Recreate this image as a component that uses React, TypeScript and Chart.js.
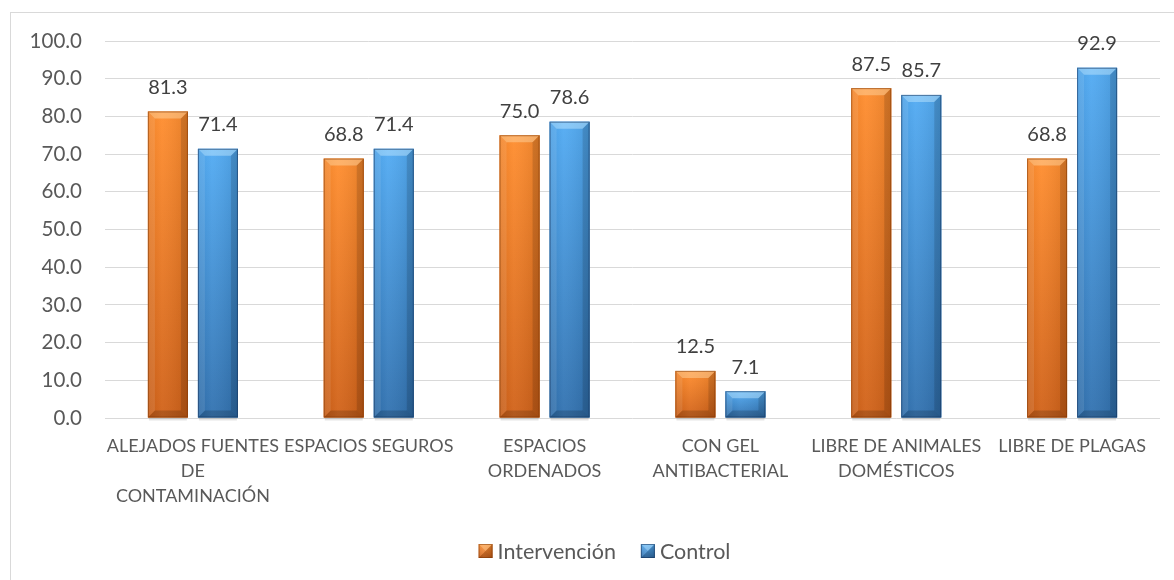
import React, { useEffect, useRef } from 'react';
import { Chart, registerables } from 'chart.js';

Chart.register(...registerables);

const categories: string[][] = [
  ['ALEJADOS FUENTES', 'DE', 'CONTAMINACIÓN'],
  ['ESPACIOS SEGUROS'],
  ['ESPACIOS', 'ORDENADOS'],
  ['CON GEL', 'ANTIBACTERIAL'],
  ['LIBRE DE ANIMALES', 'DOMÉSTICOS'],
  ['LIBRE DE PLAGAS'],
];
const seriesNames = ['Intervención', 'Control'];
const intervencion = [81.3, 68.8, 75.0, 12.5, 87.5, 68.8];
const control = [71.4, 71.4, 78.6, 7.1, 85.7, 92.9];
const yTicksMin = 0;
const yTicksMax = 100;
const yTickStep = 10;

const FONT = 'Lato, "Open Sans", "DejaVu Sans", sans-serif';

const palettes = [
  { base: '#F57B1E', light: '#FF8C2C', dark: '#D06016', cap: 'rgba(255,220,170,0.45)', edge: 'rgba(120,50,0,0.5)' },
  { base: '#3F95DE', light: '#50AAF3', dark: '#2F70AF', cap: 'rgba(200,235,255,0.45)', edge: 'rgba(20,50,90,0.55)' },
];

function drawBevelRect(ctx: CanvasRenderingContext2D, L: number, T: number, R: number, B: number, p: any) {
  const w = R - L;
  const h = B - T;
  if (h <= 0) return;
  const bv = Math.min(7, w / 2, h / 2);
  const g = ctx.createLinearGradient(0, T, 0, B);
  g.addColorStop(0, p.light);
  g.addColorStop(1, p.dark);
  ctx.fillStyle = g;
  ctx.fillRect(L, T, w, h);
  const hg = ctx.createLinearGradient(L, 0, R, 0);
  hg.addColorStop(0, 'rgba(0,0,0,0.05)');
  hg.addColorStop(0.35, 'rgba(255,255,255,0.06)');
  hg.addColorStop(1, 'rgba(0,0,0,0.10)');
  ctx.fillStyle = hg;
  ctx.fillRect(L, T, w, h);
  // top bevel
  ctx.beginPath();
  ctx.moveTo(L, T); ctx.lineTo(R, T); ctx.lineTo(R - bv, T + bv); ctx.lineTo(L + bv, T + bv); ctx.closePath();
  ctx.fillStyle = p.cap;
  ctx.fill();
  // left bevel
  ctx.beginPath();
  ctx.moveTo(L, T); ctx.lineTo(L + bv, T + bv); ctx.lineTo(L + bv, B - bv); ctx.lineTo(L, B); ctx.closePath();
  ctx.fillStyle = 'rgba(255,255,255,0.10)';
  ctx.fill();
  // right bevel
  ctx.beginPath();
  ctx.moveTo(R, T); ctx.lineTo(R - bv, T + bv); ctx.lineTo(R - bv, B - bv); ctx.lineTo(R, B); ctx.closePath();
  ctx.fillStyle = 'rgba(0,0,0,0.13)';
  ctx.fill();
  // bottom bevel
  ctx.beginPath();
  ctx.moveTo(L, B); ctx.lineTo(L + bv, B - bv); ctx.lineTo(R - bv, B - bv); ctx.lineTo(R, B); ctx.closePath();
  ctx.fillStyle = 'rgba(0,0,0,0.16)';
  ctx.fill();
  ctx.strokeStyle = p.edge;
  ctx.lineWidth = 1;
  ctx.strokeRect(L + 0.5, T + 0.5, w - 1, h - 1);
}

const bevelPlugin = {
  id: 'bevelBars',
  afterDatasetsDraw(chart: any) {
    const ctx: CanvasRenderingContext2D = chart.ctx;
    chart.data.datasets.forEach((ds: any, di: number) => {
      const meta = chart.getDatasetMeta(di);
      const p = palettes[di];
      meta.data.forEach((el: any, i: number) => {
        const { x, y, base, width } = el.getProps(['x', 'y', 'base', 'width'], true);
        const L = x - width / 2;
        const R = x + width / 2;
        ctx.save();
        ctx.fillStyle = 'rgba(0,0,0,0.10)';
        ctx.fillRect(L + 1, base, width - 2, 3);
        drawBevelRect(ctx, L, y, R, base, p);
        ctx.restore();
        ctx.save();
        ctx.fillStyle = '#404040';
        ctx.font = `20px ${FONT}`;
        ctx.textAlign = 'center';
        ctx.textBaseline = 'middle';
        ctx.fillText(Number(ds.data[i]).toFixed(1), x, y - 24);
        ctx.restore();
      });
    });
  },
};

const frameLegendPlugin = {
  id: 'frameLegend',
  beforeDraw(chart: any) {
    const ctx: CanvasRenderingContext2D = chart.ctx;
    ctx.save();
    ctx.fillStyle = '#ffffff';
    ctx.fillRect(0, 0, chart.width, chart.height);
    ctx.strokeStyle = '#D9D9D9';
    ctx.lineWidth = 1;
    ctx.strokeRect(10.5, 12.5, 1300, 700);
    ctx.restore();
  },
  afterDraw(chart: any) {
    const ctx: CanvasRenderingContext2D = chart.ctx;
    ctx.save();
    ctx.font = `21.5px ${FONT}`;
    ctx.textBaseline = 'middle';
    const box = 14;
    const gapBoxText = 5;
    const gapItems = 25;
    const labels = chart.data.datasets.map((d: any) => d.label);
    const widths = labels.map((l: string) => ctx.measureText(l).width);
    let total = 0;
    widths.forEach((w: number, i: number) => {
      total += box + gapBoxText + w + (i < widths.length - 1 ? gapItems : 0);
    });
    let x = 604.5 - total / 2;
    const yc = 551;
    labels.forEach((l: string, i: number) => {
      drawBevelRect(ctx, x, yc - box / 2, x + box, yc + box / 2, palettes[i]);
      ctx.fillStyle = '#595959';
      ctx.textAlign = 'left';
      ctx.fillText(l, x + box + gapBoxText, yc + 1);
      x += box + gapBoxText + widths[i] + gapItems;
    });
    ctx.restore();
  },
};

export default function App() {
  const ref = useRef<HTMLCanvasElement | null>(null);
  useEffect(() => {
    if (!ref.current) return;
    const chart = new Chart(ref.current, {
      type: 'bar',
      data: {
        labels: categories,
        datasets: [
          { label: seriesNames[0], data: intervencion, backgroundColor: palettes[0].base, categoryPercentage: 0.569, barPercentage: 0.8 },
          { label: seriesNames[1], data: control, backgroundColor: palettes[1].base, categoryPercentage: 0.569, barPercentage: 0.8 },
        ],
      },
      options: {
        animation: false,
        responsive: false,
        devicePixelRatio: 1,
        layout: { padding: { top: 41, right: 14, bottom: 0, left: 0 } },
        plugins: { legend: { display: false }, tooltip: { enabled: false }, title: { display: false } },
        scales: {
          x: {
            grid: { display: false, drawTicks: false },
            border: { display: false },
            ticks: {
              color: '#595959',
              font: { family: FONT, size: 18, lineHeight: 25 / 18 },
              padding: 15.5,
              maxRotation: 0,
              autoSkip: false,
            },
            afterFit: (s: any) => { s.height = 162; },
          },
          y: {
            min: yTicksMin,
            max: yTicksMax,
            grid: { color: '#D9D9D9', drawTicks: false, lineWidth: 1 },
            border: { display: false },
            ticks: {
              stepSize: yTickStep,
              color: '#595959',
              font: { family: FONT, size: 20.5 },
              padding: 23,
              callback: (v: any) => Number(v).toFixed(1),
            },
            afterFit: (s: any) => { s.width = 105; },
          },
        },
      },
      plugins: [bevelPlugin, frameLegendPlugin],
    });
    return () => chart.destroy();
  }, []);
  return (
    <div style={{ position: 'absolute', left: 0, top: 0, width: 1174, height: 580, background: '#fff' }}>
      <canvas ref={ref} width={1174} height={580} style={{ width: 1174, height: 580, display: 'block' }} />
    </div>
  );
}
